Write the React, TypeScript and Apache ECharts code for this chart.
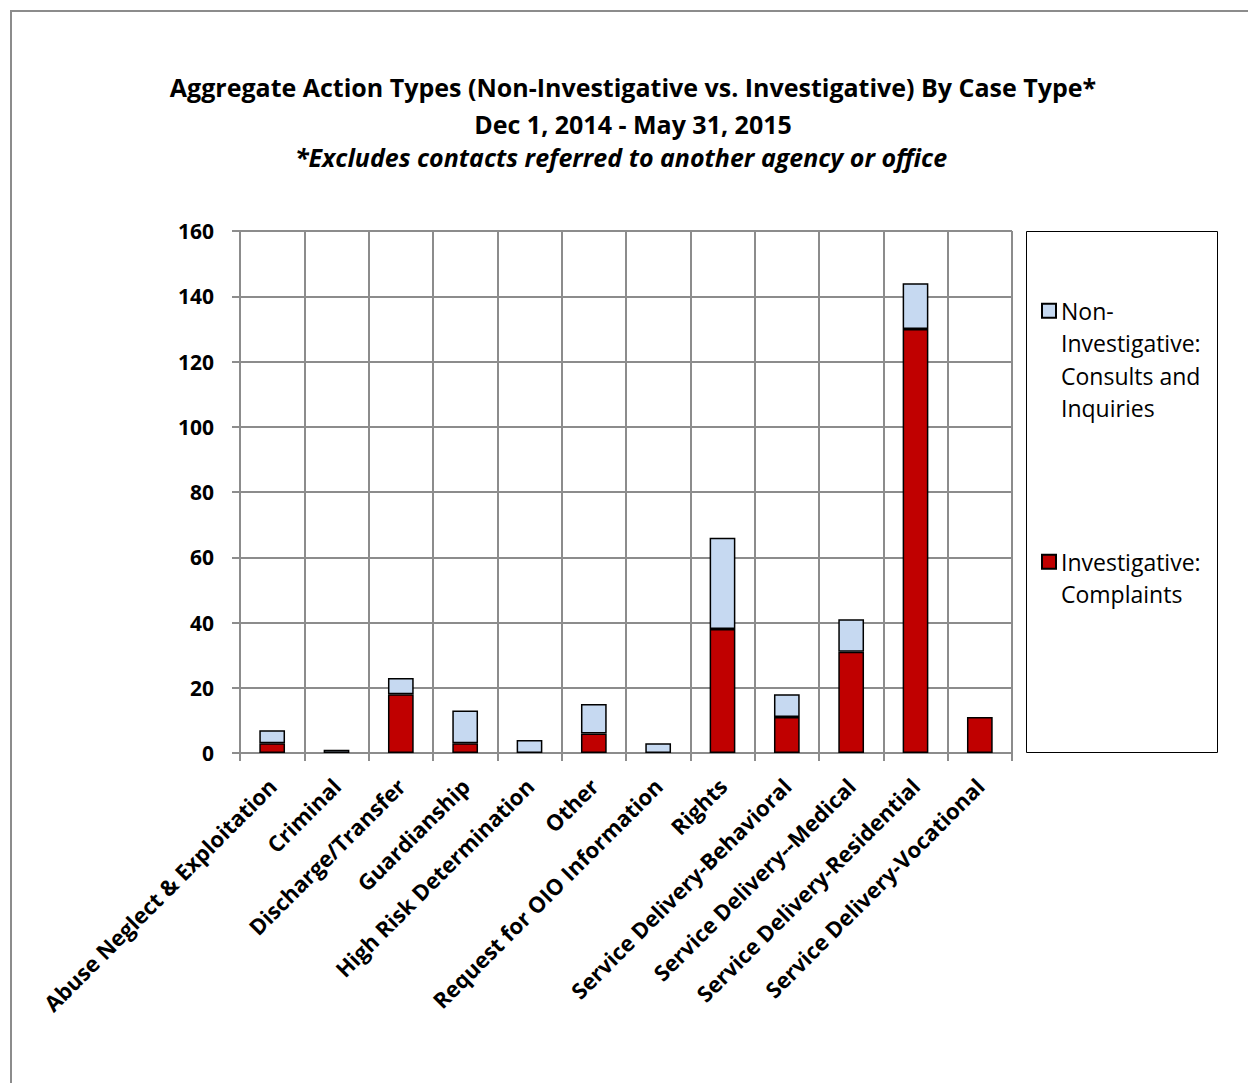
import React, { useEffect, useRef } from "react";
import * as echarts from "echarts";

// Case types along the horizontal axis
const categories = [
  "Abuse Neglect & Exploitation",
  "Criminal",
  "Discharge/Transfer",
  "Guardianship",
  "High Risk Determination",
  "Other",
  "Request for OIO Information",
  "Rights",
  "Service Delivery-Behavioral",
  "Service Delivery--Medical",
  "Service Delivery-Residential",
  "Service Delivery-Vocational",
];

// Investigative actions (complaints) per case type
const investigative = [3, 0, 18, 3, 0, 6, 0, 38, 11, 31, 130, 11];
// Non-investigative actions (consults and inquiries) per case type
const nonInvestigative = [4, 1, 5, 10, 4, 9, 3, 28, 7, 10, 14, 0];

const yTicks = { min: 0, max: 160, interval: 20 };

const seriesNames = {
  non: "Non-Investigative: Consults and Inquiries",
  inv: "Investigative: Complaints",
};

const titleLines = [
  "Aggregate Action Types (Non-Investigative vs. Investigative) By Case Type*",
  "Dec 1, 2014 - May 31, 2015",
  "*Excludes contacts referred to another agency or office",
];

const FONT = "'Open Sans', Lato, sans-serif";
const GRID_COLOR = "#8c8c8c";

// empty segments are left out so they draw no outline on the baseline
const asBarData = (values: number[]) => values.map((v) => (v === 0 ? "-" : v));

export default function App() {
  const ref = useRef<HTMLDivElement>(null);

  useEffect(() => {
    if (!ref.current) return;
    const chart = echarts.init(ref.current, null, { renderer: "svg" });

    const legendCommon = {
      orient: "vertical" as const,
      left: 1041,
      padding: 0,
      itemWidth: 14,
      itemHeight: 14,
      icon: "rect",
      textStyle: {
        fontFamily: FONT,
        fontSize: 23,
        color: "#000",
        lineHeight: 32.5,
      },
    };

    const titleStyle = { fontFamily: FONT, fontSize: 25, fontWeight: "bold", color: "#000" };

    chart.setOption({
      animation: false,
      backgroundColor: "#fff",
      title: [
        { text: titleLines[0], left: 628, top: 69, textAlign: "center", textStyle: titleStyle },
        { text: titleLines[1], left: 628, top: 106, textAlign: "center", textStyle: titleStyle },
        {
          text: titleLines[2],
          left: 616,
          top: 139,
          textAlign: "center",
          textStyle: { ...titleStyle, fontStyle: "italic" },
        },
      ],
      legend: [
        {
          ...legendCommon,
          top: 197,
          data: [seriesNames.non],
          formatter: () => "\n\n\nNon-\nInvestigative:\nConsults and\nInquiries",
        },
        {
          ...legendCommon,
          top: 513,
          data: [seriesNames.inv],
          formatter: () => "\nInvestigative:\nComplaints",
        },
      ],
      grid: { left: 240, top: 231, right: 236, bottom: 330, containLabel: false },
      xAxis: {
        type: "category",
        data: categories,
        boundaryGap: true,
        axisLine: { show: true, lineStyle: { color: GRID_COLOR, width: 2 } },
        axisTick: { show: true, length: 8, lineStyle: { color: GRID_COLOR, width: 2 } },
        splitLine: { show: true, lineStyle: { color: GRID_COLOR, width: 2 } },
        axisLabel: {
          rotate: 45,
          interval: 0,
          margin: 29,
          fontFamily: FONT,
          fontSize: 22,
          fontWeight: "bold",
          color: "#000",
        },
      },
      yAxis: {
        type: "value",
        min: yTicks.min,
        max: yTicks.max,
        interval: yTicks.interval,
        axisLine: { show: true, lineStyle: { color: GRID_COLOR, width: 2 } },
        axisTick: { show: true, length: 8, lineStyle: { color: GRID_COLOR, width: 2 } },
        splitLine: { show: true, lineStyle: { color: GRID_COLOR, width: 2 } },
        axisLabel: {
          margin: 26,
          fontFamily: FONT,
          fontSize: 21,
          fontWeight: "bold",
          color: "#000",
        },
      },
      series: [
        {
          name: seriesNames.inv,
          type: "bar",
          stack: "actions",
          barWidth: "40%",
          data: asBarData(investigative),
          itemStyle: { color: "#C00000", borderColor: "#000", borderWidth: 1.5 },
        },
        {
          name: seriesNames.non,
          type: "bar",
          stack: "actions",
          barWidth: "40%",
          data: asBarData(nonInvestigative),
          itemStyle: { color: "#C6D9F1", borderColor: "#000", borderWidth: 1.5 },
        },
      ],
      graphic: [
        {
          type: "polyline",
          silent: true,
          shape: { points: [[11, 1083], [11, 11], [1248, 11]] },
          style: { stroke: GRID_COLOR, lineWidth: 2, fill: null },
        },
        {
          type: "rect",
          silent: true,
          shape: { x: 1026.5, y: 231.5, width: 191, height: 521 },
          style: { stroke: "#000", lineWidth: 1, fill: null },
        },
      ],
    });

    return () => chart.dispose();
  }, []);

  return (
    <div
      ref={ref}
      style={{ position: "fixed", left: 0, top: 0, width: 1248, height: 1083, background: "#fff" }}
    />
  );
}
